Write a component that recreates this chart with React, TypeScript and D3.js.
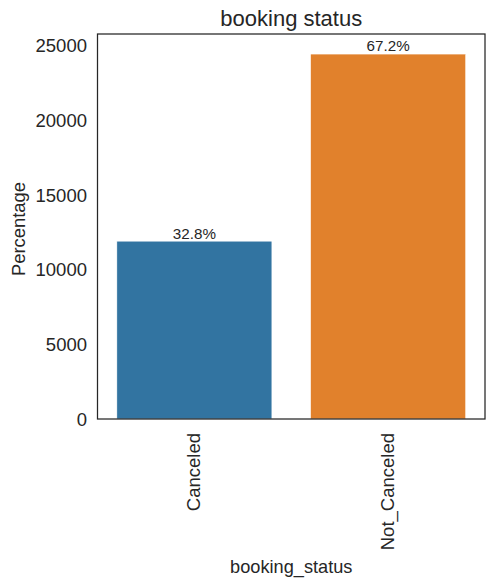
import React from "react";
import * as d3 from "d3";

const categories = ["Canceled", "Not_Canceled"];
const counts = [11885, 24390];
const colors = ["#3274a1", "#e1812c"];
const yTicks = [0, 5000, 10000, 15000, 20000, 25000];

const W = 494, H = 586;
const M = { left: 97.5, right: 485, top: 34, bottom: 419 };
const font = "'Liberation Sans', Arial, sans-serif";
const ink = "#262626";

export default function App() {
  const total = d3.sum(counts);
  const x = d3.scaleBand<string>().domain(categories).range([M.left, M.right]).paddingInner(0.2).paddingOuter(0.1);
  const y = d3.scaleLinear().domain([0, (d3.max(counts) as number) * 1.055]).range([M.bottom, M.top]);
  return (
    <svg width={W} height={H} style={{ position: "absolute", left: 0, top: 0, fontFamily: font }}>
      <rect width={W} height={H} fill="#fff" />
      {categories.map((c, i) => (
        <g key={c}>
          <rect x={x(c)} y={y(counts[i])} width={x.bandwidth()} height={M.bottom - y(counts[i])} fill={colors[i]} stroke="#fff" strokeWidth={0.5} />
          <text x={(x(c) as number) + x.bandwidth() / 2} y={y(counts[i]) - 2.6} textAnchor="middle" fontSize={15.2} fill={ink}>
            {((counts[i] / total) * 100).toFixed(1) + "%"}
          </text>
          <text transform={`translate(${(x(c) as number) + x.bandwidth() / 2 + 6},${M.bottom + 14}) rotate(-90)`} textAnchor="end" fontSize={18.5} fill={ink}>
            {c}
          </text>
        </g>
      ))}
      {yTicks.map((t) => (
        <text key={t} x={M.left - 10.5} y={y(t) + 7} textAnchor="end" fontSize={18.5} fill={ink}>
          {t}
        </text>
      ))}
      <rect x={M.left} y={M.top} width={M.right - M.left} height={M.bottom - M.top} fill="none" stroke={ink} strokeWidth={1.25} />
      <text x={(M.left + M.right) / 2} y={26} textAnchor="middle" fontSize={22} fill={ink}>booking status</text>
      <text x={(M.left + M.right) / 2} y={573} textAnchor="middle" fontSize={18.2} fill={ink}>booking_status</text>
      <text transform={`translate(24.5,229) rotate(-90)`} textAnchor="middle" fontSize={18.4} fill={ink}>Percentage</text>
    </svg>
  );
}
